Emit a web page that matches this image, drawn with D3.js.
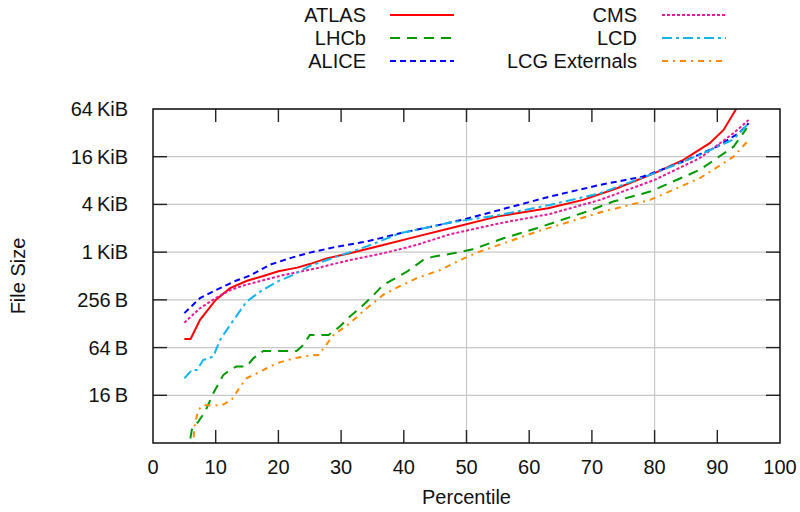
<!DOCTYPE html>
<html lang="en">
<head>
<meta charset="UTF-8">
<title>File size percentiles</title>
<script src="https://d3js.org/d3.v7.min.js"></script>
<style>
    body { margin: 0; background: white; }
    svg { display: block; font-family: "Liberation Sans", "DejaVu Sans", sans-serif; }
</style>
</head>
<body>
<svg width="800" height="512"></svg>
<script>
    // percentile -> file size in bytes
    const atlas = [[5,82],[6,82],[7.5,143],[10,256],[12.3,360],[15,446],[17.6,512],[20,588],[23,653],[25,724],
        [27.7,855],[31.4,989],[36.7,1261],[42,1607],[47.4,2048],[55,2896],[63,3666],[68.6,4672],[74,6562],
        [80,10156],[84.6,14970],[88.8,24330],[91,35630],[93,65536],[95,114000]];
    const lhcb = [[5.5,2.8],[6.2,5.9],[7.2,7.4],[8.3,9.9],[9.6,16.9],[11.2,28.8],[12.3,33.4],[13.3,36.8],[14.9,36.8],
        [16,46.8],[17.6,58.1],[22.9,58.1],[24,69.1],[25,92.4],[28,92.4],[29.8,117.8],[31.4,157.6],[33,201],
        [34.9,280],[36.7,393],[40.5,580],[43.1,815],[44.7,898],[47.9,989],[51,1113],[55.9,1531],[61.2,2048],
        [64.4,2487],[69.2,3327],[73.4,4451],[79.3,5955],[87.2,11190],[92.6,21920],[94.7,37640]];
    const alice = [[5,174],[7.5,269],[10,340],[13.3,449],[15.5,519],[18.7,714],[22,867],[25,1010],[28.8,1176],
        [34,1389],[39.4,1771],[47.4,2419],[50,2702],[55.3,3492],[63.3,5148],[71.3,7230],[78.2,9216],
        [84.6,14263],[89.9,21920],[93.5,32768],[95,43240]];
    const cms = [[5,132],[7.5,201],[10,269],[12.3,340],[14.4,388],[17,440],[20.8,526],[26,639],[31.4,815],
        [36.7,989],[42,1261],[47.4,1722],[55.3,2369],[63.3,3104],[71.3,4672],[80,8364],[87.2,15718],
        [92.6,32540],[95,47646]];
    const lcd = [[5,26.2],[6.2,33.3],[7,33.3],[8,44.6],[9.6,49.2],[10.7,79.9],[12.3,123.6],[14.9,242],[17.1,326],
        [19.7,431],[22.4,530],[25,685],[29.3,898],[34,1201],[39.4,1771],[47.4,2419],[55.3,3019],[63.3,4040],
        [71.3,5673],[80,10156],[87.2,17320],[92.6,27180],[95,43240]];
    const lcg = [[6.3,2.8],[6.6,6.4],[7.2,10.4],[8,12],[11,12],[12.5,13.9],[13.9,20.5],[14.9,26.2],[17.1,31.8],
        [19.7,40.5],[22.4,46.8],[25,50.9],[26.4,51.6],[28.8,92.4],[31.4,129.8],[34.1,201],[36.7,296],[39.4,383],
        [42.1,481],[45.8,609],[49,815],[51.9,1024],[55.9,1323],[61.2,1859],[66.5,2487],[71.8,3327],[79.3,4672],
        [87.2,8780],[92.6,16384],[95,26620]];

    const xTicks = d3.range(0, 101, 10);
    const yTicks = [16, 64, 256, 1024, 4096, 16384, 65536];
    const yTickLabels = ["16\u2009B", "64\u2009B", "256\u2009B", "1\u2009KiB", "4\u2009KiB", "16\u2009KiB", "64\u2009KiB"];
    const xGrid = [50, 80];

    const series = [
        { name: "ATLAS", data: atlas, color: "#ff0000", dash: null, col: 0, row: 0 },
        { name: "LHCb", data: lhcb, color: "#009900", dash: "10,7", col: 0, row: 1 },
        { name: "ALICE", data: alice, color: "#0000ff", dash: "6,4", col: 0, row: 2 },
        { name: "CMS", data: cms, color: "#e8189a", dash: "3,2", col: 1, row: 0 },
        { name: "LCD", data: lcd, color: "#14b4ec", dash: "10,4,3,4", col: 1, row: 1 },
        { name: "LCG Externals", data: lcg, color: "#ff8a00", dash: "6,5,2,5", col: 1, row: 2 }
    ];

    const svg = d3.select("svg");
    const L = 153, R = 780, T = 109, B = 443;
    const fs = 20;

    const x = d3.scaleLinear().domain([0, 100]).range([L, R]);
    const y = d3.scaleLog().base(2).domain([4, 65536]).range([B, T]);

    // grid
    svg.append("g").selectAll("line").data(yTicks).enter().append("line")
        .attr("x1", L).attr("x2", R).attr("y1", d => y(d)).attr("y2", d => y(d))
        .attr("stroke", "#c8c8c8").attr("stroke-width", 1.2);
    svg.append("g").selectAll("line").data(xGrid).enter().append("line")
        .attr("x1", d => x(d)).attr("x2", d => x(d)).attr("y1", T).attr("y2", B)
        .attr("stroke", "#c8c8c8").attr("stroke-width", 1.2);

    // ticks (inward, mirrored)
    const tk = svg.append("g").attr("stroke", "#222").attr("stroke-width", 1.4);
    xTicks.filter(d => d > 0 && d < 100).forEach(d => {
        tk.append("line").attr("x1", x(d)).attr("x2", x(d)).attr("y1", B).attr("y2", B - 13);
        tk.append("line").attr("x1", x(d)).attr("x2", x(d)).attr("y1", T).attr("y2", T + 13);
    });
    yTicks.filter(d => d < 65536).forEach(d => {
        tk.append("line").attr("x1", L).attr("x2", L + 14).attr("y1", y(d)).attr("y2", y(d));
        tk.append("line").attr("x1", R).attr("x2", R - 14).attr("y1", y(d)).attr("y2", y(d));
    });

    // tick labels
    svg.append("g").selectAll("text").data(xTicks).enter().append("text")
        .attr("x", d => x(d)).attr("y", 474).attr("text-anchor", "middle")
        .attr("font-size", fs).attr("fill", "#111").text(d => d);
    svg.append("g").selectAll("text").data(yTicks).enter().append("text")
        .attr("x", 128).attr("y", d => y(d) + 7).attr("text-anchor", "end")
        .attr("font-size", fs).attr("fill", "#111").text((d, i) => yTickLabels[i]);

    svg.append("text").attr("x", (L + R) / 2).attr("y", 504).attr("text-anchor", "middle")
        .attr("font-size", fs).attr("fill", "#111").text("Percentile");
    svg.append("text").attr("transform", "translate(25," + ((T + B) / 2) + ") rotate(-90)")
        .attr("text-anchor", "middle").attr("font-size", fs).attr("fill", "#111").text("File Size");

    // curves
    svg.append("clipPath").attr("id", "plotclip").append("rect")
        .attr("x", L).attr("y", T).attr("width", R - L).attr("height", B - T);
    const line = d3.line().x(d => x(d[0])).y(d => y(d[1]));
    svg.append("g").attr("clip-path", "url(#plotclip)")
        .selectAll("path").data(series).enter().append("path")
        .attr("d", d => line(d.data))
        .attr("fill", "none")
        .attr("stroke", d => d.color)
        .attr("stroke-width", 2)
        .attr("stroke-dasharray", d => d.dash);

    // frame
    svg.append("rect").attr("x", L).attr("y", T).attr("width", R - L).attr("height", B - T)
        .attr("fill", "none").attr("stroke", "#111").attr("stroke-width", 1.5);

    // legend
    const legX = [366, 637], lineX = [390, 662];
    const leg = svg.append("g").selectAll("g").data(series).enter().append("g")
        .attr("transform", d => "translate(0," + (15 + d.row * 23) + ")");
    leg.append("text").attr("x", d => legX[d.col]).attr("y", 7).attr("text-anchor", "end")
        .attr("font-size", fs).attr("fill", "#111").text(d => d.name);
    leg.append("line").attr("x1", d => lineX[d.col]).attr("x2", d => lineX[d.col] + 64)
        .attr("y1", 0).attr("y2", 0)
        .attr("stroke", d => d.color).attr("stroke-width", 2)
        .attr("stroke-dasharray", d => d.dash);
</script>
</body>
</html>
